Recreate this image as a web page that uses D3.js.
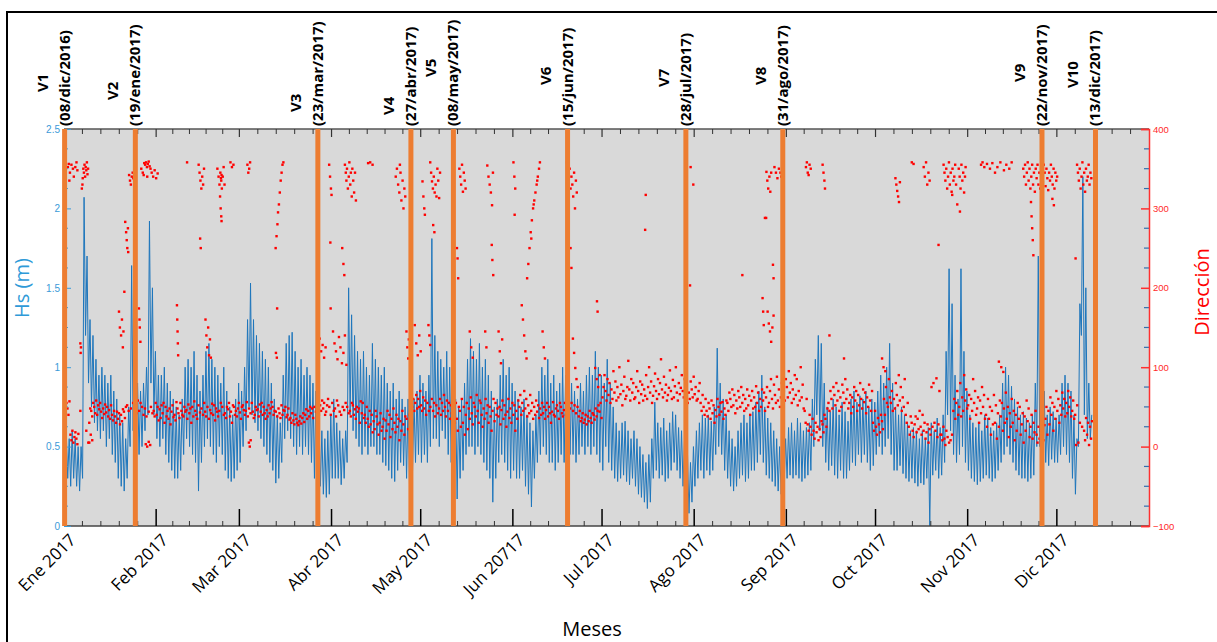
<!DOCTYPE html>
<html>
<head>
<meta charset="utf-8">
<script src="https://cdn.jsdelivr.net/npm/d3@7"></script>
<style>
  body { margin: 0; background: #fff; }
  svg { display: block; }
</style>
</head>
<body>
<svg id="chart" width="1217" height="642"></svg>
<script>
// month tick labels (as printed in the figure)
const monthLabels = ["Ene 2017", "Feb 2017", "Mar 2017", "Abr 2017", "May 2017", "Jun 20717",
                     "Jul 2017", "Ago 2017", "Sep 2017", "Oct 2017", "Nov 2017", "Dic 2017"];

// field visits: label, date text, drawn position (day of 2017)
const visitNames = ["V1", "V2", "V3", "V4", "V5", "V6", "V7", "V8", "V9", "V10"];
const visitDates = ["(08/dic/2016)", "(19/ene/2017)", "(23/mar/2017)", "(27/abr/2017)", "(08/may/2017)",
                    "(15/jun/2017)", "(28/jul/2017)", "(31/ago/2017)", "(22/nov/2017)", "(13/dic/2017)"];
const visitDay = [0.2, 24, 85.4, 116.7, 131, 169.4, 209.2, 241.8, 329, 347];

const hsTicks = [0, 0.5, 1, 1.5, 2, 2.5];
const dirTicks = [-100, 0, 100, 200, 300, 400];

// Hs (m): daily max and min, day 0 = 1 Jan 2017
const hsMax = [
  0.6,0.55,0.6,0.55,0.5,0.5,2.07,1.7,1.3,1.2,
  1.05,0.95,1.0,0.95,0.9,0.95,0.85,0.8,0.7,0.65,
  0.55,0.75,1.64,1.3,0.9,0.85,0.9,1.0,1.92,1.5,
  1.1,0.95,0.95,1.0,0.9,0.85,0.8,0.75,0.7,0.8,
  1.0,1.05,1.0,1.1,0.95,0.85,0.95,1.1,1.15,1.05,
  1.0,0.95,0.9,1.0,0.85,0.75,0.7,0.8,0.9,0.85,
  1.0,1.3,1.53,1.3,1.2,1.15,1.1,1.05,1.0,0.9,
  0.8,0.7,0.65,0.95,1.15,1.2,1.22,1.1,1.0,1.05,
  0.95,1.0,0.95,0.9,0.85,0.7,0.6,0.55,0.6,0.7,
  0.8,0.65,0.6,0.55,0.6,1.5,1.33,1.2,1.1,1.05,
  1.1,1.0,0.95,1.15,1.05,1.0,0.95,1.0,0.9,0.85,
  0.9,0.8,0.85,0.8,0.75,0.8,0.7,0.8,0.85,0.95,
  0.9,0.85,0.95,1.81,1.2,1.1,1.05,1.0,1.1,1.0,
  0.95,0.8,0.75,0.8,0.9,1.05,1.18,1.1,1.05,1.15,
  1.0,1.05,0.95,0.85,0.75,0.8,0.95,1.05,0.95,1.0,
  0.9,0.85,0.8,0.75,0.8,0.7,0.65,0.6,0.7,0.85,
  1.0,0.95,1.05,0.9,0.95,0.85,0.9,1.0,0.95,0.85,
  0.9,0.85,0.8,0.9,0.85,0.95,1.0,0.95,1.1,1.0,
  0.95,0.9,1.05,0.9,0.75,0.65,0.6,0.65,0.66,0.6,
  0.55,0.6,0.55,0.5,0.45,0.4,0.45,0.55,0.78,0.65,
  0.62,0.68,0.6,0.65,0.72,0.7,0.62,0.6,0.55,0.45,
  0.4,0.5,0.6,0.65,0.7,0.68,0.7,0.66,0.75,1.12,
  0.9,0.8,0.7,0.6,0.55,0.5,0.6,0.65,0.7,0.65,
  0.7,0.72,0.78,0.85,0.95,0.75,0.68,0.65,0.6,0.55,
  0.5,0.45,0.55,0.62,0.65,0.6,0.68,0.65,0.6,0.62,
  0.65,0.8,1.05,1.2,1.15,0.9,0.75,0.72,0.8,0.75,
  0.7,0.78,0.72,0.66,0.8,0.85,0.78,0.82,0.8,0.85,
  0.75,0.8,0.78,0.85,0.95,0.9,1.0,1.15,0.9,0.75,
  0.7,0.75,0.7,0.65,0.6,0.62,0.6,0.55,0.6,0.55,
  0.62,0.65,0.6,0.68,0.62,0.7,1.1,1.62,1.4,0.95,
  0.8,1.62,1.1,0.85,0.7,0.65,0.62,0.65,0.6,0.7,
  0.68,0.62,0.6,0.65,0.7,0.9,1.0,0.95,0.88,0.8,
  0.75,0.7,0.72,0.68,0.65,0.7,0.9,1.7,1.1,0.85,
  0.7,0.75,0.72,0.68,0.7,0.9,0.95,0.9,0.85,0.7,
  0.55,1.4,2.2,1.5,0.9,0.7
];
const hsMin = [
  0.35,0.3,0.25,0.3,0.25,0.22,0.3,1.2,0.9,0.75,
  0.65,0.6,0.55,0.6,0.5,0.55,0.45,0.4,0.3,0.25,
  0.22,0.3,0.5,0.6,0.55,0.45,0.5,0.6,0.7,0.9,
  0.7,0.55,0.5,0.55,0.45,0.4,0.35,0.3,0.3,0.35,
  0.45,0.55,0.5,0.45,0.4,0.22,0.4,0.5,0.55,0.5,
  0.45,0.4,0.5,0.45,0.35,0.3,0.28,0.3,0.35,0.4,
  0.5,0.6,0.75,0.7,0.65,0.6,0.55,0.5,0.45,0.4,
  0.35,0.27,0.3,0.4,0.55,0.6,0.55,0.5,0.45,0.5,
  0.45,0.5,0.45,0.4,0.3,0.3,0.25,0.2,0.18,0.2,
  0.3,0.3,0.3,0.26,0.3,0.4,0.7,0.6,0.55,0.5,
  0.45,0.5,0.45,0.5,0.5,0.45,0.45,0.4,0.38,0.35,
  0.3,0.28,0.35,0.4,0.38,0.3,0.24,0.35,0.4,0.45,
  0.4,0.45,0.4,0.5,0.55,0.55,0.5,0.6,0.55,0.45,
  0.4,0.25,0.17,0.3,0.35,0.45,0.5,0.5,0.45,0.5,
  0.45,0.4,0.35,0.3,0.15,0.3,0.4,0.45,0.4,0.35,
  0.3,0.35,0.3,0.3,0.35,0.25,0.2,0.12,0.3,0.4,
  0.45,0.5,0.45,0.4,0.4,0.35,0.4,0.45,0.4,0.4,
  0.45,0.45,0.4,0.45,0.5,0.45,0.5,0.45,0.5,0.45,
  0.4,0.35,0.5,0.4,0.35,0.3,0.28,0.3,0.32,0.28,
  0.26,0.3,0.25,0.2,0.18,0.15,0.11,0.15,0.3,0.35,
  0.3,0.32,0.28,0.3,0.35,0.4,0.35,0.3,0.25,0.15,
  0.08,0.15,0.25,0.3,0.35,0.3,0.35,0.32,0.35,0.45,
  0.5,0.45,0.35,0.3,0.25,0.22,0.25,0.3,0.32,0.28,
  0.3,0.35,0.35,0.4,0.45,0.4,0.32,0.3,0.28,0.25,
  0.22,0.2,0.25,0.3,0.32,0.3,0.32,0.3,0.28,0.3,
  0.32,0.35,0.5,0.7,0.6,0.5,0.4,0.35,0.38,0.32,
  0.3,0.35,0.3,0.3,0.35,0.4,0.38,0.45,0.4,0.45,
  0.4,0.35,0.38,0.45,0.5,0.45,0.5,0.55,0.45,0.35,
  0.35,0.38,0.33,0.3,0.28,0.3,0.27,0.25,0.27,0.26,
  0.3,0.0,0.32,0.35,0.3,0.32,0.4,0.7,0.6,0.45,
  0.4,0.45,0.5,0.4,0.35,0.3,0.28,0.26,0.28,0.3,
  0.32,0.3,0.28,0.3,0.35,0.4,0.45,0.5,0.45,0.4,
  0.35,0.32,0.3,0.3,0.28,0.3,0.32,0.5,0.5,0.45,
  0.4,0.38,0.42,0.4,0.4,0.45,0.5,0.45,0.4,0.3,
  0.2,0.5,1.2,0.7,0.55,0.55
];

// direction (deg): readings of the main band, listed day by day
const dirBand = [
  [50,44,55],[48,40,57],[15,8,20],[5,12,18],[10,3,16],[45],[],[20],[5,30,48],[45,38,55],
  [50,42,58],[40,52,47],[55,44,36],[48,41,53],[43,50,38],[46,35,52],[40,33,45],[38,30,44],[35,42,28],[40,32,47],
  [44,36,50],[52,45],[48],[55,47],[50,42,58],[45,55],[50,40],[48,38],[44],[50,42],
  [45,38,55],[40,50,33],[47,36,52],[42,55,30],[50,38,45],[35,48,28],[44,52,37],[40,33,56],[48,42,36],[55,45,40],
  [38,50,44],[46,35,53],[42,48,30],[50,38,57],[45,40,35],[52,43],[48,40],[55,44,38],[50,35],[46,42,54],
  [40,52,33],[48,44,38],[45,55],[50,40],[42,36,50],[47,55,38],[44,30,52],[50,40,45],[38,48,55],[43,35,50],
  [52,46,40],[45,56,38],[48,42],[55,44,36],[40,50,46],[47,38,53],[44,55,40],[50,42,35],[46,38,52],[42,48,56],
  [50,40,45],[44,38],[48,42,36],[52,40,46],[45,50,37],[40,48,34],[36,30,42],[33,28,40],[35,30,27],[32,38,29],
  [36,42,31],[40,47,35],[45,38,50],[42,48,36],[50,44],[47,40],[52,45,58],[48,55,40],[44,52,60],[50,40],
  [55,45],[48,38,58],[52,44],[40,50],[46,55],[50,42],[45,38,55],[52,40,47],[35,50,44],[48,30,57],
  [42,55,36],[40,30,50],[35,25,45],[28,40,18],[32,22,45],[38,28,15],[30,42,20],[25,35,10],[33,20,45],[28,40,12],
  [35,22,48],[30,18,40],[25,35,8],[32,20,45],[28,15,38],[35,22],[40,30],[50,60,45],[55,65,48],[60,50,70],
  [52,45,62],[48,58,40],[55,45],[50,60],[45,55,38],[52,42],[48,60,40],[55,45,65],[50,38,58],[45,55,35],
  [52,42,60],[40,30,55],[35,20,50],[45,25,60],[30,50,15],[40,55,22],[48,35,62],[42,28,55],[50,38,65],[45,30,58],
  [55,40,25],[48,35,60],[42,52,30],[50,38,20],[45,60,32],[55,40,48],[38,50,28],[46,58,35],[52,40,25],[44,60,36],
  [48,30,55],[40,52,20],[45,35,58],[50,65,40],[55,45,70],[48,60,38],[52,42,65],[45,55,35],[50,40,58],[44,52,36],
  [48,40,55],[42,50,35],[46,55,38],[50,42,30],[44,56,40],[38,48,52],[45,35,55],[50,42,38],[46,55,40],[50,44],
  [48,55],[45,52],[42,50],[38,45,32],[36,42,30],[34,40,28],[38,32,45],[36,30,42],[40,34,48],[38,45,52],
  [44,55,36],[62,75,90],[70,58,85],[65,80,55],[72,60,95],[68,82,58],[75,62,100],[66,78,52],[70,88,60],[64,75,108],
  [72,58,85],[68,80,60],[62,75,95],[70,55,82],[66,78,58],[72,64,90],[60,75,100],[68,82,55],[64,76,92],[70,60,85],
  [66,80,110],[72,62,88],[68,78,58],[65,74,96],[70,60,84],[62,76,100],[68,58,80],[66,74,90],[70,62,85],[64,78,55],
  [68,60,82],[72,62,88],[66,75,58],[60,70,80],[55,45,65],[50,40,60],[45,38,55],[48,35,58],[42,52,30],[46,38,60],
  [50,40,55],[44,56,35],[48,40,58],[55,45,68],[60,50,72],[52,65,42],[58,48,70],[62,50,75],[55,65,45],[60,48,72],
  [52,64,40],[58,70,48],[62,50,76],[55,68,45],[60,50,72],[58,68,45],[62,75,50],[55,70,85],[60,48,78],[65,55,88],
  [58,72,50],[62,80,55],[70,58,85],[75,62,95],[68,80,55],[72,60,90],[65,85,52],[70,58,100],[62,78,48],[45,30,60],
  [28,20,40],[25,15,35],[20,10,30],[18,25,8],[22,12,32],[28,18,40],[35,25,48],[55,45,70],[60,48,75],[65,52,80],
  [58,70,45],[62,50,78],[68,55,85],[60,72,48],[55,65,42],[62,50,75],[58,70,45],[65,52,80],[60,48,72],[56,68,42],
  [62,50,78],[58,45,70],[30,20,45],[25,15,36],[28,18,40],[32,22,60],[40,75,55],[50,85,62],[55,70,45],[60,48,80],
  [65,52,90],[58,75,45],[62,50,85],[40,30,55],[25,15,38],[30,20,12],[28,38,18],[35,22,45],[25,15,40],[20,30,10],
  [18,28,5],[22,15,75],[25,80,30],[20,86,12],[28,70,15],[15,8,25],[10,2,20],[12,5],[8,15],[45,60,35],
  [55,70,40],[50,80,38],[62,45,90],[58,72,48],[52,65,35],[60,45,85],[55,70,40],[48,62,30],[58,42,75],[50,65,35],
  [40,25,60],[35,50,15],[45,28,65],[30,52,10],[42,25,58],[38,55,20],[48,30,68],[35,50,12],[42,25,60],[30,45,8],
  [40,20,55],[35,50,15],[28,42,5],[38,20,58],[32,48,12],[25,40,10],[30,18,45],[15,5,25],[10,20,2],[18,8,27],
  [35,50,15],[45,28,62],[40,55,20],[50,35,70],[45,60,30],[52,40,68],[48,60,38],[55,42,70],[50,62,38],[45,58,35],
  [40,2,52],[5,30],[25],[20,8,36],[15,30,2],[25,10,32]
];

// direction (deg): readings away from the main band, [day, deg]
const dirOther = [
  [1.3,352],[1.6,356],[1.8,335],[2,345],[2.5,355],[3,350],[3.3,340],[3.8,352],[4.2,358],[4.5,348],
  [5.5,130],[5.6,118],[5.7,125],[6,325],[6.2,330],[6.3,338],[6.5,350],[6.7,345],[6.9,355],[7.1,340],
  [7.3,352],[7.5,348],[7.7,358],[7.9,343],[8.1,350],[8.5,5],[9,15],[9.5,8],
  [18.5,170],[18.8,150],[19.2,140],[19.5,160],[19.8,125],[20,145],[20.3,195],[20.6,283],[20.9,270],[21.1,260],
  [21.3,250],[21.5,275],[21.6,245],[21.9,342],[22.2,335],[22.5,330],[22.8,340],[23.1,345],[23.3,338],
  [25.2,174],[25.4,160],[25.5,150],[25.7,132],[26,350],[26.5,345],[26.8,342],[27,357],[27.3,355],[27.6,358],
  [27.9,352],[28,340],[28.2,356],[28.5,359],[28.8,353],[29.1,350],[29.5,345],[30,340],[30.5,348],[31,338],
  [31.5,344],[27.5,3],[28,0],[28.5,6],[29,2],
  [38,178],[38.1,160],[38.2,145],[38.3,130],[38.4,115],[41.4,358],
  [45.3,355],[45.6,345],[45.8,262],[45.9,335],[46,250],[46.2,325],[46.5,340],[46.8,330],[47.1,350],
  [47.6,160],[47.9,140],[48.2,125],[48.5,150],[48.8,115],[49.1,135],[49.4,112],
  [51.6,350],[52,340],[52.3,330],[52.5,315],[52.6,345],[52.7,300],[52.8,338],[52.9,290],[52.9,335],[53,284],
  [53,342],[53.1,325],[53.4,340],[53.7,352],[54,330],[56,358],[56.5,352],[57,355],
  [61.7,355],[62,345],[62.3,350],[62.6,358],[62.2,5],[62.5,0],[62.8,8],
  [71.2,250],[71.3,118],[71.5,265],[71.6,112],[71.7,174],[71.8,280],[72,295],[72.3,305],[72.6,320],[72.9,335],
  [73.2,345],[73.5,355],[73.8,358],
  [86,136],[86.5,120],[87,128],[87.5,112],[88,125],[89.2,355],[89.5,340],[89.6,257],[89.7,174],[89.8,325],[90,317],
  [90.5,145],[91,130],[91.5,120],[92,110],[92.5,138],[93,125],[93.5,105],[94,118],[94.5,140],[95,103],
  [93.6,250],[94,230],[94.3,216],[94.5,355],[94.8,345],[95,335],[95.2,350],[95.5,325],[95.8,340],[96,358],
  [96.3,330],[96.5,345],[96.8,315],[97,350],[97.3,335],[97.6,320],[97.9,345],[98.2,310],
  [102.3,357],[103,358],[103.8,355],
  [111.6,340],[112,350],[112.4,330],[112.8,320],[113,355],[113.2,345],[113.5,310],[113.9,335],[114.2,300],[114.5,325],
  [114.8,315],[115.2,145],[115.5,125],[115.8,111],[116,135],
  [118,153],[118.5,130],[119,115],[119.5,140],[120,120],[120.6,334],[120.9,315],[121.2,300],[121.4,292],
  [122.6,153],[122.9,140],[123.2,128],[123.2,358],[123.5,345],[123.8,334],[124.1,325],[124.2,279],[124.4,340],[124.6,270],
  [124.7,320],[125,330],[125.3,315],[125.6,350],[125.9,335],[126.2,313],[126.5,345],
  [132.2,250],[132.4,237],[132.6,212],[133,350],[133.3,340],[133.6,330],[133.9,355],[134.2,321],[134.5,345],[134.8,335],
  [135.1,325],[136.5,145],[137,125],[137.5,112],
  [141.7,145],[142.1,125],[142.4,354],[142.8,340],[143.2,330],[143.6,320],[143.9,254],[144,304],[144.1,235],[144.3,345],
  [144.4,216],[146.2,145],[146.6,120],[147,105],[147.4,135],
  [151.2,358],[151.5,340],[151.6,292],[151.8,325],
  [154,178],[154.4,160],[154.8,140],[155.2,120],[155.6,111],[155.8,212],[156.2,230],[156.6,250],[157,270],[157.2,262],
  [157.4,285],[157.8,300],[158,305],[158.2,310],[158.6,320],[159,330],[159.2,335],[159.4,340],[159.8,350],[160.1,358],
  [161,145],[161.4,125],[161.8,111],
  [169.2,358],[169.5,345],[169.8,335],[170.1,350],[170.4,325],[170.4,250],[170.7,340],[170.7,225],[171,330],[171.3,315],
  [171.6,345],[171.9,300],[172.2,335],[172.5,320],[171.2,136],[171.6,118],[172,99],[172.4,85],[172.8,75],
  [178.7,99],[179.2,85],[179.3,183],[179.5,170],[179.7,75],[180.2,90],
  [195.5,273],[195.7,317],[210.6,203],[210.8,352],[211.7,330],[228.2,216],
  [235,187],[235.2,170],[235.4,153],[235.8,288],[236.2,288],[236.3,346],[236.6,335],[236.7,170],[236.9,325],[237.1,155],
  [237.3,340],[237.5,145],[237.6,321],[237.9,132],[237.9,345],[238.3,150],[238.5,229],[238.7,212],[238.7,165],[239,352],
  [239.5,345],[240,338],[240.5,350],[241,345],[241.3,340],
  [249.6,352],[249.9,358],[250.2,345],[250.5,342],[250.8,355],[251.2,350],
  [255.2,355],[255.5,345],[255.8,335],[256,325],[257.5,140],[262.4,111],
  [275.2,111],[275.7,100],[276.3,95],[279.7,338],[280,330],[280.3,322],[280.6,315],[280.9,308],[281.2,333],
  [285.2,358],[285.8,356],[289.2,352],[289.6,340],[290,358],[290.4,330],[290.8,345],[291.2,335],[294.2,254],
  [295.9,355],[296.2,345],[296.5,335],[296.8,350],[297.1,325],[297.4,340],[297.7,358],[298,330],[298.3,345],[298.6,321],
  [298.8,317],[298.9,350],[299.2,335],[299.5,340],[299.8,355],[300.1,330],[300.5,305],[301,350],[301.3,340],[301.4,296],
  [301.6,325],[301.9,355],[302.2,335],[302.5,345],[302.8,320],[303.1,340],[303.3,352],
  [308.5,355],[309,358],[309.6,352],[310.5,356],[311.5,350],[312.3,357],[313.2,345],[314,352],[315,358],[316.2,348],
  [317,355],[318,350],[318.8,358],[314.5,107],[315.3,100],[316,94],
  [322.7,350],[323,340],[323.3,355],[323.6,330],[323.9,345],[324.2,358],[324.5,335],[324.8,350],[325.1,325],[325.4,340],
  [325.7,355],[326,330],[326.3,345],[326.6,321],[326.9,350],[327.2,338],[327.5,355],[327.8,330],[328.1,345],[328.4,325],
  [328.7,350],[329,340],[329.3,333],[329.6,355],[329.9,345],[330.2,328],[330.5,350],[330.8,338],[331.1,323],[331.4,345],
  [331.7,335],[332,355],[332.3,340],[332.6,330],[332.9,350],[333.2,325],[333.5,345],[333.8,335],[334.1,340],
  [325.3,308],[325.5,290],[325.7,275],[325.9,260],[326.1,241],[332.5,312],[333,304],[340.3,237],
  [340.8,355],[341.1,345],[341.4,335],[341.7,350],[342,325],[342.3,340],[342.6,358],[342.9,330],[343.2,345],[343.5,321],
  [343.8,350],[344.1,335],[344.4,340],[344.7,355],[345,330],[345.3,345],[345.6,338]
];

const svg = d3.select("#chart");
const xL = 64, xR = 1149, yT = 129, yB = 526;
const t0 = Date.UTC(2017, 0, 1);
const dayDate = d => new Date(t0 + d * 864e5);

const x = d3.scaleUtc().domain([dayDate(0), new Date(Date.UTC(2018, 0, 1))]).range([xL, xR]);
const yHs = d3.scaleLinear().domain([0, 2.5]).range([yB, yT]);
const yDir = d3.scaleLinear().domain([-100, 400]).range([yB, yT]);

// outer frame of the figure
svg.append("rect").attr("x", 7).attr("y", 12).attr("width", 1220).attr("height", 640)
  .attr("fill", "none").attr("stroke", "#000").attr("stroke-width", 2);

svg.append("rect").attr("x", xL).attr("y", yT).attr("width", xR - xL).attr("height", yB - yT)
  .attr("fill", "#d9d9d9");

svg.append("clipPath").attr("id", "plot-clip").append("rect")
  .attr("x", xL).attr("y", yT).attr("width", xR - xL).attr("height", yB - yT);
const plot = svg.append("g").attr("clip-path", "url(#plot-clip)");

// Hs line: each day goes through its low and its high
const hsPoints = [];
hsMax.forEach((v, i) => {
  hsPoints.push([i + 0.25, hsMin[i]]);
  hsPoints.push([i + 0.75, v]);
});
plot.append("path")
  .datum(hsPoints)
  .attr("fill", "none")
  .attr("stroke", "#1e76bc")
  .attr("stroke-width", 1)
  .attr("d", d3.line().x(d => x(dayDate(d[0]))).y(d => yHs(d[1])));

// direction points
const dirPoints = dirOther.slice();
dirBand.forEach((vals, i) => {
  vals.forEach((v, k) => dirPoints.push([i + (k + 0.5) / vals.length, v]));
});
plot.append("g").selectAll("rect")
  .data(dirPoints)
  .join("rect")
  .attr("x", d => x(dayDate(d[0])) - 1.2)
  .attr("y", d => yDir(d[1]) - 1.2)
  .attr("width", 2.4)
  .attr("height", 2.4)
  .attr("fill", "#ff0000");

// month ticks (bottom and mirrored top)
const monthStarts = d3.range(13).map(m => new Date(Date.UTC(2017, m, 1)));
const minorTicks = [];
for (let m = 0; m < 12; m++) {
  const a = +monthStarts[m], b = +monthStarts[m + 1];
  for (let k = 1; k < 5; k++) minorTicks.push(new Date(a + (b - a) * k / 5));
}
const frame = svg.append("g");
frame.append("line").attr("x1", xL).attr("x2", xR).attr("y1", yB).attr("y2", yB)
  .attr("stroke", "#444").attr("stroke-width", 1.5);
frame.append("line").attr("x1", xL).attr("x2", xR).attr("y1", yT).attr("y2", yT)
  .attr("stroke", "#555").attr("stroke-width", 1.5);
frame.selectAll(".minor-b").data(minorTicks).join("line")
  .attr("x1", d => x(d)).attr("x2", d => x(d)).attr("y1", yB).attr("y2", yB - 5)
  .attr("stroke", "#333").attr("stroke-width", 1);
frame.selectAll(".minor-t").data(minorTicks).join("line")
  .attr("x1", d => x(d)).attr("x2", d => x(d)).attr("y1", yT).attr("y2", yT + 5)
  .attr("stroke", "#333").attr("stroke-width", 1);
frame.selectAll(".major-b").data(monthStarts.slice(0, 12)).join("line")
  .attr("x1", d => x(d)).attr("x2", d => x(d)).attr("y1", yB).attr("y2", yB - 17)
  .attr("stroke", "#000").attr("stroke-width", 1.5);
frame.selectAll(".major-t").data(monthStarts.slice(0, 12)).join("line")
  .attr("x1", d => x(d)).attr("x2", d => x(d)).attr("y1", yT).attr("y2", yT + 8)
  .attr("stroke", "#333").attr("stroke-width", 1.2);

svg.append("g").selectAll("text")
  .data(monthLabels)
  .join("text")
  .attr("transform", (d, i) => `translate(${x(monthStarts[i]) + 13},${541}) rotate(-45)`)
  .attr("text-anchor", "end")
  .attr("font-family", "'Open Sans', sans-serif")
  .attr("font-size", 17)
  .attr("fill", "#000")
  .text(d => d);

// left Hs axis
const hsMinor = d3.range(0, 2.5001, 0.125).filter(v => Math.abs(v * 2 - Math.round(v * 2)) > 1e-6);
svg.append("g")
  .attr("transform", `translate(${xL},0)`)
  .call(d3.axisLeft(yHs).tickValues(hsTicks).tickSize(-7).tickPadding(4).tickFormat(d3.format("")))
  .call(g => g.select(".domain").attr("stroke", "#3b9ad8"))
  .call(g => g.selectAll(".tick line").attr("stroke", "#3b9ad8"))
  .call(g => g.selectAll(".tick text").attr("fill", "#3b9ad8").attr("font-size", 10)
    .attr("font-family", "'Liberation Sans', sans-serif"));
svg.append("g").selectAll("line").data(hsMinor).join("line")
  .attr("x1", xL).attr("x2", xL + 4).attr("y1", d => yHs(d)).attr("y2", d => yHs(d))
  .attr("stroke", "#3b9ad8");
svg.append("g").selectAll("line").data(hsMinor).join("line")
  .attr("x1", xR - 5).attr("x2", xR).attr("y1", d => yHs(d)).attr("y2", d => yHs(d))
  .attr("stroke", "#2f6fb0").attr("stroke-width", 1.2);

// right direction axis
svg.append("g")
  .attr("transform", `translate(${xR},0)`)
  .call(d3.axisRight(yDir).tickValues(dirTicks).tickSize(-8).tickPadding(4))
  .call(g => g.select(".domain").attr("stroke", "#ff3030").attr("stroke-width", 1.5))
  .call(g => g.selectAll(".tick line").attr("stroke", "#ff3030").attr("stroke-width", 1.5))
  .call(g => g.selectAll(".tick text").attr("fill", "#ff2a2a").attr("font-size", 9.5)
    .attr("font-family", "'Liberation Sans', sans-serif"));

// visit lines
svg.append("g").selectAll("line")
  .data(visitDay)
  .join("line")
  .attr("x1", d => x(dayDate(d))).attr("x2", d => x(dayDate(d)))
  .attr("y1", yT).attr("y2", yB)
  .attr("stroke", "#ed7d31")
  .attr("stroke-width", 5);

const vBottom = [92, 100, 112, 115, 77, 85, 87, 85, 82, 88];
const labels = svg.append("g")
  .attr("font-family", "'Open Sans', sans-serif")
  .attr("font-weight", "bold")
  .attr("font-size", 15)
  .attr("fill", "#000");
labels.selectAll(".vdate").data(visitDates).join("text")
  .attr("transform", (d, i) => `translate(${x(dayDate(visitDay[i])) + 5},126) rotate(-90)`)
  .text(d => d);
labels.selectAll(".vname").data(visitNames).join("text")
  .attr("transform", (d, i) => `translate(${x(dayDate(visitDay[i])) - 17},${vBottom[i]}) rotate(-90)`)
  .text(d => d);

// axis titles
svg.append("text")
  .attr("transform", "translate(29,288) rotate(-90)")
  .attr("text-anchor", "middle")
  .attr("font-family", "'Open Sans', sans-serif")
  .attr("font-size", 20)
  .attr("fill", "#2e9ad8")
  .text("Hs (m)");
svg.append("text")
  .attr("transform", "translate(1209,292) rotate(-90)")
  .attr("text-anchor", "middle")
  .attr("font-family", "'Open Sans', sans-serif")
  .attr("font-size", 20)
  .attr("fill", "#ff0000")
  .text("Dirección");
svg.append("text")
  .attr("x", 592).attr("y", 636)
  .attr("text-anchor", "middle")
  .attr("font-family", "'Open Sans', sans-serif")
  .attr("font-size", 20)
  .attr("fill", "#000")
  .text("Meses");
</script>
</body>
</html>
